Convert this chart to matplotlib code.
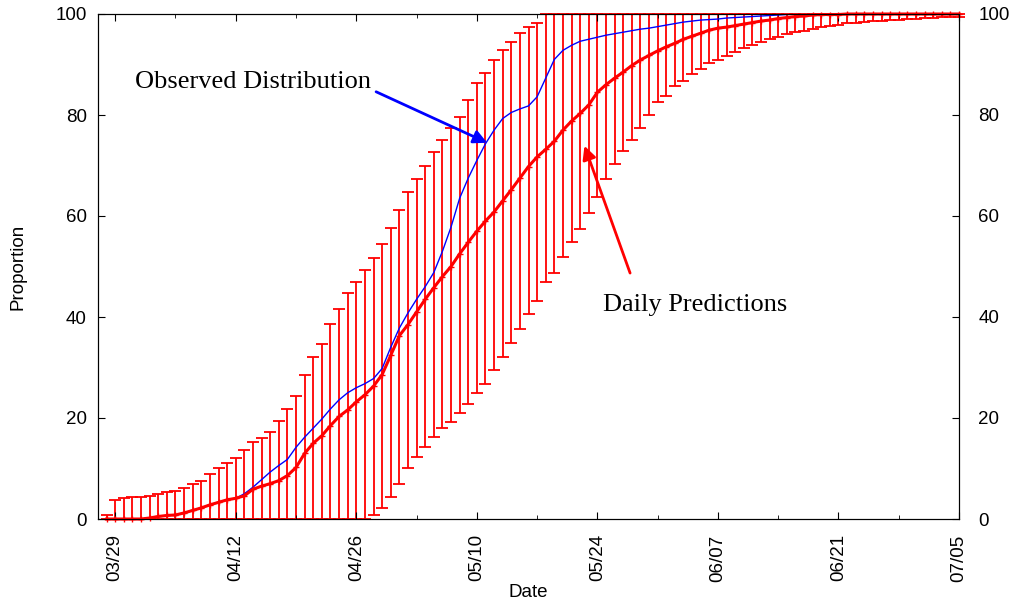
import matplotlib.pyplot as plt

# day offsets from 03/29 (one prediction per day, 03/28 .. 07/05)
days = list(range(-1, 99))

predicted = [0, 0, 0, 0, 0, 0.2, 0.5, 0.7, 0.8, 1.2,
             1.7, 2.2, 2.8, 3.3, 3.8, 4.1, 4.6, 5.9, 6.5, 7.0,
             7.6, 8.6, 10.2, 13.0, 15.0, 16.5, 18.5, 20.3, 21.6, 23.2,
             24.6, 26.3, 28.6, 32.4, 36.3, 38.5, 41.0, 43.5, 45.8, 48.0,
             50.0, 52.5, 54.8, 57.0, 59.0, 60.8, 63.0, 65.2, 67.5, 69.8,
             71.7, 73.2, 74.8, 77.0, 78.8, 80.3, 82.0, 84.5, 86.0, 87.3,
             88.5, 89.8, 90.9, 91.8, 92.7, 93.5, 94.2, 95.0, 95.6, 96.2,
             96.8, 97.2, 97.4, 97.7, 98.0, 98.3, 98.6, 98.8, 99.1, 99.3,
             99.5, 99.6, 99.8, 99.9, 99.9, 99.9, 100, 100, 100, 100,
             100, 100, 100, 100, 100, 100, 100, 100, 100, 100]

observed = [0, 0, 0, 0, 0, 0.2, 0.5, 0.7, 0.8, 1.2,
            1.7, 2.2, 2.8, 3.3, 3.8, 4.1, 5.0, 6.3, 7.8, 9.3,
            10.6, 11.8, 14.2, 16.2, 18.0, 19.8, 21.8, 23.6, 25.0, 26.0,
            26.8, 27.8, 29.8, 34.0, 37.8, 40.8, 43.5, 46.0, 48.8, 53.0,
            57.8, 63.5, 67.5, 71.0, 74.3, 77.0, 79.3, 80.5, 81.2, 81.8,
            83.6, 87.3, 91.0, 92.8, 93.8, 94.6, 95.0, 95.4, 95.8, 96.1,
            96.4, 96.7, 97.0, 97.2, 97.5, 97.8, 98.1, 98.4, 98.6, 98.8,
            98.9, 99.0, 99.2, 99.3, 99.4, 99.5, 99.6, 99.7, 99.8, 99.9,
            100, 100, 100, 100, 100, 100, 100, 100, 100, 100,
            100, 100, 100, 100, 100, 100, 100, 100, 100, 100]

upper = [0.8, 3.7, 4.2, 4.4, 4.4, 4.6, 5.0, 5.3, 5.5, 6.1,
         6.9, 7.5, 8.9, 10.1, 11.1, 12.1, 13.7, 15.2, 16.0, 17.2,
         19.4, 21.8, 24.4, 28.5, 32.1, 34.7, 38.6, 41.6, 44.8, 47.0,
         49.3, 51.7, 54.5, 57.6, 61.2, 64.8, 67.3, 69.9, 72.7, 75.0,
         77.4, 79.6, 83.0, 86.3, 88.3, 90.9, 92.9, 94.5, 96.2, 97.4,
         98.2, 100, 100, 100, 100, 100, 100, 100, 100, 100,
         100, 100, 100, 100, 100, 100, 100, 100, 100, 100,
         100, 100, 100, 100, 100, 100, 100, 100, 100, 100,
         100, 100, 100, 100, 100, 100, 100, 100, 100, 100,
         100, 100, 100, 100, 100, 100, 100, 100, 100, 100]

lower = [0, 0, 0, 0, 0, 0, 0, 0, 0, 0,
         0, 0, 0, 0, 0, 0, 0, 0, 0, 0,
         0, 0, 0, 0, 0, 0, 0, 0, 0, 0,
         0, 0.8, 2.2, 4.4, 6.9, 10.1, 12.3, 14.3, 16.2, 18.0,
         19.2, 21.0, 22.8, 25.0, 26.8, 29.5, 32.1, 34.8, 37.6, 40.6,
         43.2, 46.9, 48.7, 51.9, 54.9, 57.4, 60.6, 63.8, 67.3, 70.3,
         72.8, 75.0, 77.4, 80.0, 82.6, 83.8, 85.7, 86.7, 88.1, 89.1,
         90.2, 90.9, 91.7, 92.5, 93.3, 93.9, 94.5, 95.0, 95.4, 96.0,
         96.4, 96.6, 97.0, 97.4, 97.6, 97.8, 98.2, 98.2, 98.4, 98.6,
         98.6, 98.8, 98.8, 99.0, 99.0, 99.2, 99.2, 99.4, 99.4, 99.4]

tick_days = [0, 14, 28, 42, 56, 70, 84, 98]
tick_labels = ['03/29', '04/12', '04/26', '05/10', '05/24', '06/07', '06/21', '07/05']
minor_days = [7, 21, 35, 49, 63, 77, 91]
y_ticks = [0, 20, 40, 60, 80, 100]

sans = 'Liberation Sans'
serif = 'Liberation Serif'

fig = plt.figure(figsize=(10.13, 6.03), dpi=100)
ax = fig.add_axes([98 / 1013, 1 - 519 / 603, 861 / 1013, 505 / 603])

lo_err = [p - l for p, l in zip(predicted, lower)]
hi_err = [u - p for p, u in zip(predicted, upper)]
eb = ax.errorbar(days, predicted, yerr=[lo_err, hi_err], fmt='none', ecolor='red',
                 elinewidth=1.3, capsize=4, capthick=1.3, zorder=1)
for c in eb.lines[1]:
    c.set_clip_on(False)
for b in eb.lines[2]:
    b.set_clip_on(False)

ax.plot(days, observed, color='blue', lw=1, zorder=2)
ax.plot(days, predicted, color='red', lw=2.2, marker='+', ms=5, mew=1, zorder=3, clip_on=False)

ax.set_xlim(-2, 98)
ax.set_ylim(0, 100)
ax.set_xticks(tick_days)
ax.set_xticklabels(tick_labels, rotation=90, fontsize=13.5, family=sans)
ax.set_xticks(minor_days, minor=True)
ax.set_yticks(y_ticks)
ax.set_yticklabels([str(v) for v in y_ticks], fontsize=13.5, family=sans)
ax.tick_params(axis='x', which='major', direction='in', top=True, length=5, pad=11)
ax.tick_params(axis='x', which='minor', direction='in', top=True, length=3)
ax.tick_params(axis='y', direction='in', length=5, pad=8, right=False)

ax2 = ax.twinx()
ax2.set_ylim(0, 100)
ax2.set_yticks(y_ticks)
ax2.set_yticklabels([str(v) for v in y_ticks], fontsize=13.5, family=sans)
ax2.tick_params(axis='y', direction='in', length=5, pad=14)

ax.set_xlabel('Date', fontsize=13.5, family=sans)
ax.xaxis.set_label_coords(0.5, -0.128)
ax.set_ylabel('Proportion', fontsize=13.5, family=sans)
ax.yaxis.set_label_coords(-0.083, 0.5)

# annotations
ax.text(2.3, 85.3, 'Observed Distribution', fontsize=19, family=serif, va='baseline')
ax.annotate('', xy=(43.2, 74.5), xytext=(30.3, 84.6),
            arrowprops=dict(arrowstyle='-|>', color='blue', lw=2, mutation_scale=20,
                            shrinkA=0, shrinkB=0))
ax.text(56.7, 41.2, 'Daily Predictions', fontsize=19, family=serif, va='baseline')
ax.annotate('', xy=(54.5, 73.9), xytext=(59.8, 48.7),
            arrowprops=dict(arrowstyle='-|>', color='red', lw=2, mutation_scale=20,
                            shrinkA=0, shrinkB=0))

fig.savefig('out.png', dpi=100)
